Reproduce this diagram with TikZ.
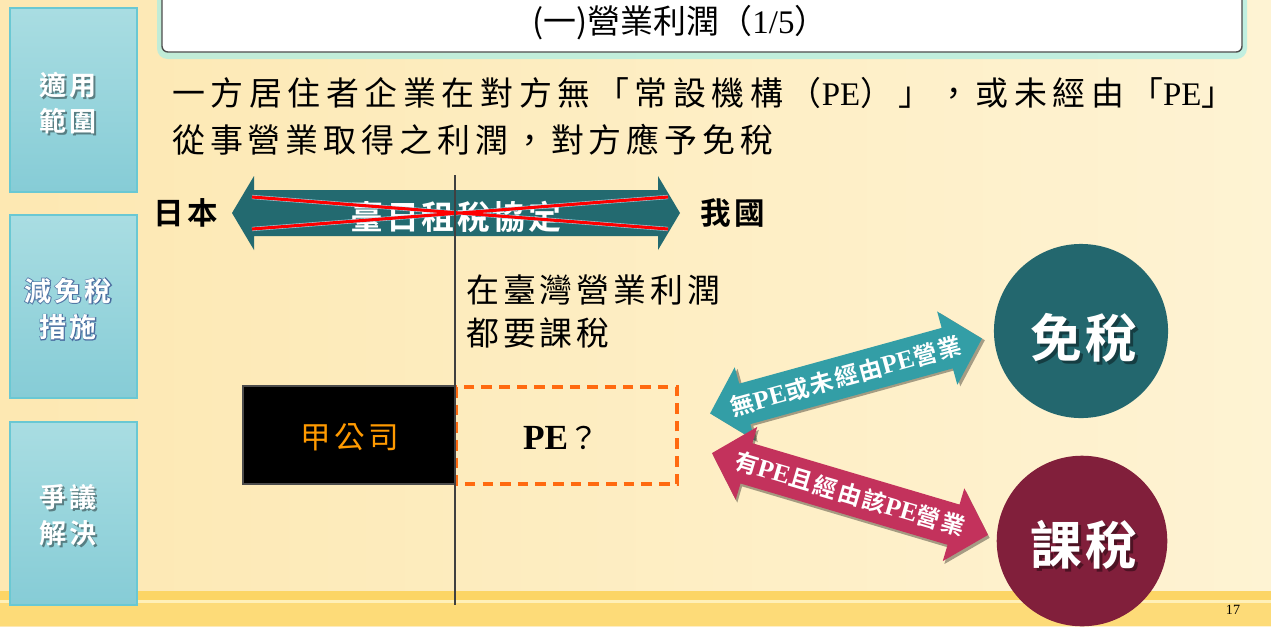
\documentclass[tikz,border=0pt]{standalone}
\usepackage{fontspec}
\setmainfont{Noto Sans CJK TC}[BoldFont={Noto Sans CJK TC Bold}]
\newfontfamily\lat{Liberation Serif}
\newcommand\fs[1]{\fontsize{#1}{#1}\selectfont}
\definecolor{bgL}{HTML}{FDE8B2}
\definecolor{bgR}{HTML}{FEF3D3}
\definecolor{band}{HTML}{FCD565}
\definecolor{bandlt}{HTML}{FFF0B8}
\definecolor{bandb}{HTML}{FDDB78}
\definecolor{sideT}{HTML}{A9DDE2}
\definecolor{sideB}{HTML}{86CCD6}
\definecolor{sideD}{HTML}{6AC8D3}
\definecolor{tealD}{HTML}{236A70}
\definecolor{tealM}{HTML}{339EA6}
\definecolor{crim}{HTML}{C3325C}
\definecolor{circA}{HTML}{23676E}
\definecolor{circB}{HTML}{811F3B}
\definecolor{orangeT}{HTML}{FF9A00}
\definecolor{dashO}{HTML}{FF6A10}
\definecolor{glowC}{HTML}{A8EEE6}
\definecolor{glowB}{HTML}{2A4488}
\begin{document}
\begin{tikzpicture}[x=0.85pt,y=-0.85pt,
  sidebox/.style={top color=sideT,bottom color=sideB,draw=sideD,line width=1.2pt},
  sidetext/.style={text=white,align=center,font=\bfseries\fontsize{23}{31}\selectfont\addfontfeatures{LetterSpace=12}},
  shad/.style={text=black,opacity=0.4},
  arrowshadow/.style={fill=black,opacity=0.35}]
\useasboundingbox (0,0) rectangle (1271,626);
% background
\shade[left color=bgL,right color=bgR] (0,0) rectangle (1271,626);
\fill[band] (0,591) rectangle (1271,600);
\fill[bandlt] (0,600) rectangle (1271,603);
\fill[bandb] (0,603) rectangle (1271,626);
% title
\fill[glowC,opacity=0.7,rounded corners=9] (157,-10) rectangle (1247,59);
\draw[fill=white,draw=black!70,line width=1.2pt,rounded corners=5] (162,-10) rectangle (1242,52);
\node[inner sep=0] (title) at (680,23) {\fs{28}({\addfontfeatures{LetterSpace=-10}一})營業利潤（{\lat 1/5}）};
% sidebar
\shadedraw[sidebox] (10,8) rectangle (137,192);
\shadedraw[sidebox] (10,215) rectangle (137,398);
\shadedraw[sidebox] (10,422) rectangle (137,605);
\node[sidetext,shad] at (70,105) {適用\\範圍};
\node[sidetext] (s1) at (68,103) {適用\\範圍};
\node[sidetext,text=glowB,opacity=0.6,font=\bfseries\fontsize{23}{31}\selectfont\addfontfeatures{LetterSpace=12,FakeBold=6}] at (68,309) {減免稅\\措施};
\node[sidetext] (s2) at (68,309) {減免稅\\措施};
\node[sidetext,shad] at (70,517) {爭議\\解決};
\node[sidetext] (s3) at (68,515) {爭議\\解決};
% body text
\node[anchor=west,inner sep=0] (body1) at (172,93) {\fs{28}\addfontfeatures{LetterSpace=17}一方居住者企業在對方無「常設機構（{\lat PE}）」，或未經由「{\lat PE}」};
\node[anchor=west,inner sep=0] (body2) at (172,140) {\fs{28}\addfontfeatures{LetterSpace=15}從事營業取得之利潤，對方應予免稅};
% big double arrow
\fill[tealD] (232,213) -- (254,176) -- (254,190) -- (658,190) -- (658,176) -- (680,213)
  -- (658,250) -- (658,236) -- (254,236) -- (254,250) -- cycle;
\node[inner sep=0,text=white] (treaty) at (456,217) {\bfseries\fs{28}\addfontfeatures{LetterSpace=8}臺日租稅協定};
\coordinate (xa) at (252,197); \coordinate (xb) at (668,229);
\coordinate (xc) at (252,229); \coordinate (xd) at (668,197);
\draw[line width=3.6pt,white!70!cyan,opacity=0.8] (xa) -- (xb) (xc) -- (xd);
\draw[line width=2.6pt,red] (xa) -- (xb) (xc) -- (xd);
\node[inner sep=0] (jp) at (186,213) {\bfseries\fs{26}\addfontfeatures{LetterSpace=10}日本};
\node[inner sep=0] (tw) at (733,213) {\bfseries\fs{26}\addfontfeatures{LetterSpace=10}我國};
% taiwan text
\node[anchor=west,inner sep=0] (tx1) at (466,290) {\fs{28}\addfontfeatures{LetterSpace=12}在臺灣營業利潤};
\node[anchor=west,inner sep=0] (tx2) at (466,333) {\fs{28}\addfontfeatures{LetterSpace=12}都要課稅};
% boxes
\draw[fill=black,draw=black!70,line width=1.5pt] (243,386) rectangle (455,484);
\node[text=orangeT,inner sep=0] (co) at (350,437) {\fs{26}\addfontfeatures{LetterSpace=12}甲公司};
\draw[dashO,line width=2.6pt,dash pattern=on 9pt off 6pt] (456,387) rectangle (677,484);
\node[inner sep=0] (pe) at (561,438) {{\lat\bfseries\fs{30}PE}\fs{26}？};
% vertical line
\coordinate (vtop) at (455,175); \coordinate (vbot) at (455,605);
\draw[line width=1.8pt,black!75] (vtop) -- (vbot);
% teal small arrow
\begin{scope}[shift={(846,376)},rotate=15.4]
  \fill[arrowshadow,xshift=2pt,yshift=-2pt] (-141,0) -- (-105,-38) -- (-105,-21) -- (105,-21) -- (105,-38) -- (141,0)
    -- (105,38) -- (105,21) -- (-105,21) -- (-105,38) -- cycle;
  \fill[tealM] (-141,0) -- (-105,-38) -- (-105,-21) -- (105,-21) -- (105,-38) -- (141,0)
    -- (105,38) -- (105,21) -- (-105,21) -- (-105,38) -- cycle;
  \node[text=white,inner sep=0,rotate=15.4] (a1) at (0,0) {\bfseries\fs{20}\addfontfeatures{LetterSpace=8}無{\lat\fs{22}PE}或未經由{\lat\fs{22}PE}營業};
\end{scope}
% crimson arrow
\begin{scope}[shift={(850,494)},rotate=-16.5]
  \fill[arrowshadow,xshift=2pt,yshift=-2pt] (-144,0) -- (-108,-38) -- (-108,-21) -- (108,-21) -- (108,-38) -- (144,0)
    -- (108,38) -- (108,21) -- (-108,21) -- (-108,38) -- cycle;
  \fill[crim] (-144,0) -- (-108,-38) -- (-108,-21) -- (108,-21) -- (108,-38) -- (144,0)
    -- (108,38) -- (108,21) -- (-108,21) -- (-108,38) -- cycle;
  \node[text=white,inner sep=0,rotate=-16.5] (a2) at (0,0) {\bfseries\fs{20}\addfontfeatures{LetterSpace=8}有{\lat\fs{22}PE}且經由該{\lat\fs{22}PE}營業};
\end{scope}
% circles
\node[circle,fill=circA,minimum size=148pt,inner sep=0] (c1) at (1081,331) {};
\node[shad,inner sep=0] at (1087,341) {\bfseries\fs{44}\addfontfeatures{LetterSpace=6}免稅};
\node[text=white,inner sep=0] (t1) at (1084,338) {\bfseries\fs{44}\addfontfeatures{LetterSpace=6}免稅};
\node[circle,fill=circB,minimum size=145pt,inner sep=0] (c2) at (1082,541) {};
\node[shad,inner sep=0] at (1087,548) {\bfseries\fs{44}\addfontfeatures{LetterSpace=6}課稅};
\node[text=white,inner sep=0] (t2) at (1084,545) {\bfseries\fs{44}\addfontfeatures{LetterSpace=6}課稅};
% page number
\node[inner sep=0] (pg) at (1233,610) {\lat\fs{12}17};
\end{tikzpicture}
\end{document}
